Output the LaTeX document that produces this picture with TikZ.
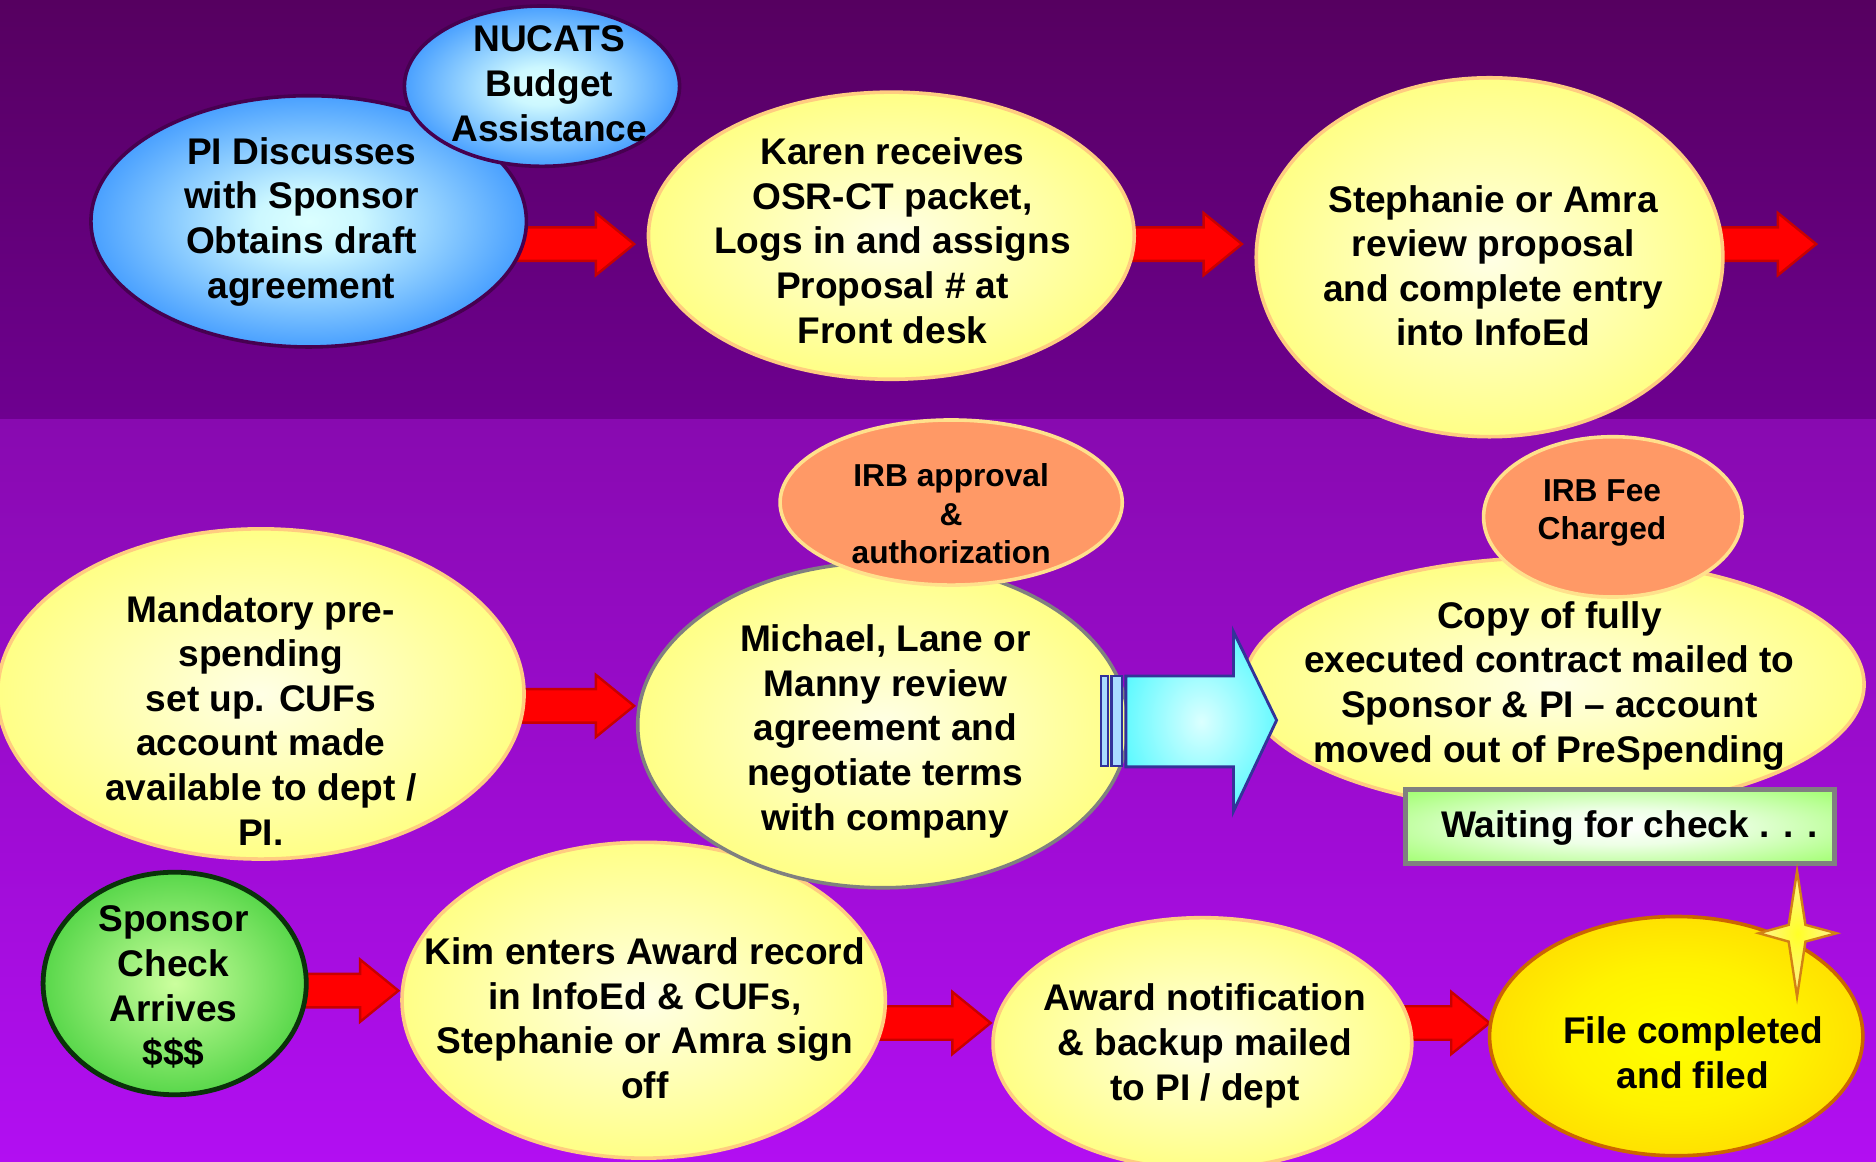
\documentclass[tikz,border=0pt]{standalone}
\usepackage{fontspec}
\setmainfont{Liberation Sans}
\usetikzlibrary{shapes.geometric}
\pgfdeclareradialshading{blueball}{\pgfpoint{0bp}{0bp}}{rgb(0bp)=(0.86,1,1); rgb(6bp)=(0.8,0.97,1); rgb(26bp)=(0.26,0.61,1); rgb(50bp)=(0.22,0.57,1); rgb(75bp)=(0.22,0.57,1)}
\pgfdeclareradialshading{yellowball}{\pgfpoint{0bp}{0bp}}{rgb(0bp)=(1,1,0.9); rgb(32bp)=(1,1,0.42); rgb(50bp)=(1,1,0.4); rgb(75bp)=(1,1,0.4)}
\pgfdeclareradialshading{greenball}{\pgfpoint{0bp}{0bp}}{rgb(0bp)=(0.8,1,0.62); rgb(32bp)=(0.22,0.8,0.2); rgb(50bp)=(0.2,0.78,0.2); rgb(75bp)=(0.2,0.78,0.2)}
\pgfdeclareradialshading{goldball}{\pgfpoint{0bp}{0bp}}{rgb(0bp)=(1,1,0); rgb(15bp)=(1,0.95,0); rgb(40bp)=(1,0.78,0); rgb(50bp)=(1,0.76,0); rgb(75bp)=(1,0.76,0)}
\pgfdeclareradialshading{waitball}{\pgfpoint{0bp}{0bp}}{rgb(0bp)=(1,1,1); rgb(12bp)=(0.93,1,0.9); rgb(36bp)=(0.62,1,0.42); rgb(75bp)=(0.6,1,0.4)}
\pgfdeclareradialshading{cyanball}{\pgfpoint{0bp}{0bp}}{rgb(0bp)=(0.86,1,1); rgb(36bp)=(0.2,0.97,1); rgb(75bp)=(0.2,0.97,1)}
\pgfdeclareradialshading{starball}{\pgfpoint{0bp}{0bp}}{rgb(0bp)=(1,1,0.15); rgb(20bp)=(1,0.96,0.5); rgb(75bp)=(1,0.9,0.65)}
\definecolor{bgA}{RGB}{86,0,96}
\definecolor{bgB}{RGB}{110,0,144}
\definecolor{bgC}{RGB}{136,10,176}
\definecolor{bgD}{RGB}{178,14,242}
\definecolor{bpurple}{RGB}{70,0,80}
\definecolor{lorange}{RGB}{255,204,128}
\definecolor{salmon}{RGB}{255,153,102}
\definecolor{lyellow}{RGB}{255,224,140}
\definecolor{dgreen}{RGB}{10,50,10}
\definecolor{fborder}{RGB}{204,102,0}
\definecolor{darr}{RGB}{200,0,0}
\definecolor{dblue}{RGB}{51,51,153}
\definecolor{stripe}{RGB}{170,220,255}
\definecolor{starb}{RGB}{210,130,20}
\newcommand\mf{\fontsize{15.5}{18.65}\selectfont\bfseries}
\newcommand\smf{\fontsize{13.25}{16}\selectfont\bfseries}
\newcommand\mystrut{\rule[-5.6pt]{0pt}{18.65pt}}
\newcommand\smstrut{\rule[-4.8pt]{0pt}{16pt}}
\newcommand\redarrow[3]{\filldraw[redarr] (#1,#3-14) -- (#2-32,#3-14) -- (#2-32,#3-26) -- (#2,#3) -- (#2-32,#3+26) -- (#2-32,#3+14) -- (#1,#3+14) -- cycle;}
\begin{document}
\begin{tikzpicture}[x=0.5pt,y=-0.5pt,
  ell/.style={ellipse, inner sep=0pt, line width=1.5pt},
  blueell/.style={ell, shading=blueball, draw=bpurple},
  yellell/.style={ell, shading=yellowball, draw=lorange},
  irbell/.style={ell, fill=salmon, draw=lyellow},
  greenell/.style={ell, shading=greenball, draw=dgreen, line width=2pt},
  goldell/.style={ell, shading=goldball, draw=fborder},
  redarr/.style={fill=red, draw=darr, line width=1pt},
  txt/.style={align=center, inner sep=0pt, font=\mf, execute at begin node=\mystrut, execute at end node=\mystrut},
  smtxt/.style={align=center, inner sep=0pt, font=\smf, execute at begin node=\smstrut, execute at end node=\smstrut}]
\useasboundingbox (0,0) rectangle (1568,971);
% background
\shade[top color=bgA, bottom color=bgB] (0,0) rectangle (1568,351);
\shade[top color=bgC, bottom color=bgD] (0,351) rectangle (1568,971);
% red block arrows
\redarrow{420}{530}{204}
\redarrow{930}{1038}{204}
\redarrow{1425}{1518}{204}
\redarrow{425}{530}{590}
\redarrow{240}{333}{828}
\redarrow{725}{828}{855}
\redarrow{1165}{1245}{855}
% ellipses
\node[blueell, minimum width=182pt, minimum height=105pt] (pi) at (258,185) {};
\node[blueell, minimum width=115pt, minimum height=67pt] (nucats) at (453,72) {};
\node[yellell, minimum width=203pt, minimum height=120pt] (karen) at (745,197) {};
\node[yellell, minimum width=195pt, minimum height=150pt] (steph) at (1245,215) {};
\node[yellell, minimum width=220pt, minimum height=138pt] (mand) at (218,580) {};
\node[yellell, minimum width=202pt, minimum height=132pt] (kim) at (538,836) {};
\node[yellell, draw=gray, minimum width=205pt, minimum height=136pt] (mich) at (738,606) {};
\node[irbell, minimum width=143pt, minimum height=69pt] (irb) at (795,420) {};
\node[yellell, minimum width=259pt, minimum height=106pt] (copy) at (1299,572) {};
\node[irbell, minimum width=108pt, minimum height=67pt] (fee) at (1348,432) {};
\node[greenell, minimum width=110pt, minimum height=93pt] (sponsor) at (146,822) {};
\node[yellell, minimum width=175pt, minimum height=105pt] (award) at (1005,872) {};
\node[goldell, minimum width=156pt, minimum height=100pt] (file) at (1401,866) {};
% cyan arrow
\filldraw[fill=stripe, draw=dblue, line width=1pt] (920,565) rectangle (926,640);
\filldraw[fill=stripe, draw=dblue, line width=1pt] (929,565) rectangle (938,640);
\filldraw[shading=cyanball, draw=dblue, line width=1.2pt] (941,565) -- (1031,565) -- (1031,528) -- (1067,602) -- (1031,678) -- (1031,641) -- (941,641) -- cycle;
% waiting box
\node[draw=gray, line width=2pt, shading=waitball, minimum width=179pt, minimum height=31pt, inner sep=0pt] (wait) at (1354,691) {};
% star
\filldraw[shading=starball, draw=starb, line width=1pt] (1502,728) -- (1509,773) -- (1535,780) -- (1509,787) -- (1502,833) -- (1495,787) -- (1470,780) -- (1495,773) -- cycle;
% texts
\node[txt] (tpi) at (252,187.5) {PI Discusses\\with Sponsor\\Obtains draft\\agreement};
\node[txt] (tnucats) at (459,75.5) {NUCATS\\Budget\\Assistance};
\node[txt] (tkaren) at (746,206.5) {Karen receives\\OSR-CT packet,\\Logs in and assigns\\Proposal \# at\\Front desk};
\node[txt] (tsteph) at (1248,227.5) {Stephanie or Amra\\review proposal\\and complete entry\\into InfoEd};
\node[txt] (tmand) at (218,607.5) {Mandatory pre-\\spending\\set up. CUFs\\account made\\available to dept /\\PI.};
\node[smtxt] (tirb) at (795,434) {IRB approval\\\&\\authorization};
\node[txt] (tmich) at (740,613.5) {Michael, Lane or\\Manny review\\agreement and\\negotiate terms\\with company};
\node[smtxt] (tfee) at (1339,431) {IRB Fee\\Charged};
\node[txt] (tcopy) at (1295,575.5) {Copy of fully\\executed contract mailed to\\Sponsor \& PI – account\\moved out of PreSpending};
\node[txt] (twait) at (1362,692.5) {Waiting for check . . .};
\node[txt] (tsponsor) at (145,829.5) {Sponsor\\Check\\Arrives\\\$\$\$};
\node[txt] (tkim) at (539,856.5) {Kim enters Award record\\in InfoEd \& CUFs,\\Stephanie or Amra sign\\off};
\node[txt] (taward) at (1007,876.5) {Award notification\\\& backup mailed\\to PI / dept};
\node[txt] (tfile) at (1415,885.5) {File completed\\and filed};
\end{tikzpicture}
\end{document}
